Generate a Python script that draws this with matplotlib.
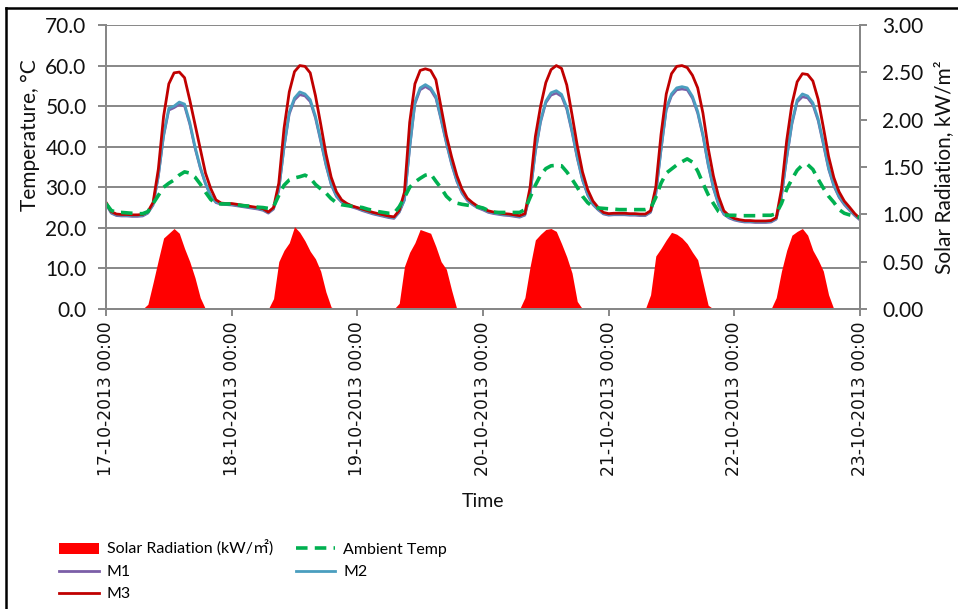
import matplotlib
matplotlib.use("Agg")
import matplotlib.pyplot as plt
from matplotlib.lines import Line2D
from matplotlib.patches import Patch
import numpy as np

# hourly samples from 17-10-2013 00:00 to 23-10-2013 00:00
hours = list(range(0, 145))
tick_hours = [0, 24, 48, 72, 96, 120, 144]
tick_labels = ["17-10-2013 00:00", "18-10-2013 00:00", "19-10-2013 00:00",
               "20-10-2013 00:00", "21-10-2013 00:00", "22-10-2013 00:00",
               "23-10-2013 00:00"]

m3 = [26.3, 24.0, 23.4, 23.3, 23.3, 23.2, 23.2, 23.3, 24.0, 26.3, 34.5, 47.5, 55.5, 58.2, 58.4, 57.0, 51.5, 45.5, 39.5, 33.5, 29.7, 26.9, 26.1, 26.0,
      26.0, 25.8, 25.6, 25.4, 25.2, 25.0, 24.7, 23.9, 25.0, 31.0, 44.5, 53.5, 58.5, 60.0, 59.8, 58.2, 52.6, 45.6, 38.3, 32.5, 28.9, 26.9, 26.0, 25.4,
      25.0, 24.6, 24.2, 23.8, 23.5, 23.2, 22.9, 22.7, 24.3, 28.8, 46.0, 55.5, 58.8, 59.2, 58.8, 56.5, 49.6, 42.8, 37.5, 32.9, 29.5, 27.3, 26.2, 25.3,
      24.8, 24.2, 23.9, 23.7, 23.5, 23.4, 23.2, 23.0, 23.5, 30.0, 42.5, 50.0, 55.8, 59.0, 60.0, 59.3, 55.2, 47.9, 40.3, 33.8, 29.4, 26.6, 25.0, 23.8,
      23.5, 23.6, 23.6, 23.6, 23.5, 23.5, 23.4, 23.4, 24.2, 30.0, 43.0, 53.0, 58.0, 59.8, 60.0, 59.5, 57.6, 54.5, 48.3, 39.7, 32.8, 27.7, 24.2, 23.0,
      22.3, 22.0, 21.8, 21.8, 21.7, 21.7, 21.7, 21.8, 22.5, 29.5, 41.5, 50.5, 56.0, 58.0, 57.8, 56.2, 51.7, 44.8, 37.6, 32.4, 28.9, 26.6, 25.1, 23.5,
      22.3]

m2 = [26.0, 23.8, 23.2, 23.1, 23.1, 23.0, 23.0, 23.1, 23.8, 25.8, 33.0, 43.0, 49.5, 50.0, 51.0, 50.5, 46.0, 40.0, 35.0, 31.0, 28.0, 26.4, 26.0, 25.9,
      25.8, 25.6, 25.4, 25.2, 25.0, 24.8, 24.5, 23.8, 24.8, 29.5, 40.0, 48.5, 52.0, 53.5, 53.0, 51.6, 47.5, 41.8, 35.8, 30.9, 28.0, 26.5, 25.9, 25.3,
      24.9, 24.4, 24.0, 23.6, 23.3, 23.0, 22.7, 22.5, 24.0, 27.0, 40.0, 51.0, 54.5, 55.3, 54.5, 52.4, 47.0, 41.2, 36.0, 31.7, 28.8, 27.0, 25.9, 25.1,
      24.6, 24.0, 23.7, 23.5, 23.3, 23.2, 23.0, 22.8, 23.3, 28.5, 39.0, 46.5, 51.2, 53.3, 53.8, 52.9, 49.7, 44.0, 37.5, 32.0, 28.3, 25.9, 24.6, 23.6,
      23.3, 23.4, 23.4, 23.4, 23.3, 23.3, 23.2, 23.2, 24.0, 28.5, 39.5, 49.5, 53.0, 54.5, 54.8, 54.5, 52.4, 48.7, 43.0, 35.8, 30.0, 25.9, 23.5, 22.6,
      22.1, 21.8, 21.6, 21.6, 21.5, 21.5, 21.5, 21.6, 22.3, 28.0, 37.5, 46.0, 51.5, 53.0, 52.5, 50.8, 46.9, 41.0, 34.8, 30.6, 27.8, 26.0, 24.6, 23.2,
      22.1]

m1 = [25.8, 23.6, 23.0, 22.9, 22.9, 22.8, 22.8, 22.9, 23.6, 25.6, 32.6, 42.5, 49.0, 49.6, 50.4, 50.0, 45.5, 39.6, 34.7, 30.8, 27.8, 26.2, 25.8, 25.7,
      25.6, 25.4, 25.2, 25.0, 24.8, 24.6, 24.3, 23.6, 24.6, 29.2, 39.6, 48.0, 51.5, 52.8, 52.5, 51.1, 47.0, 41.3, 35.4, 30.6, 27.7, 26.3, 25.7, 25.1,
      24.7, 24.2, 23.8, 23.4, 23.1, 22.8, 22.5, 22.3, 23.8, 26.8, 39.5, 50.5, 54.0, 54.8, 54.0, 51.9, 46.5, 40.8, 35.6, 31.4, 28.5, 26.7, 25.7, 24.9,
      24.4, 23.8, 23.5, 23.3, 23.1, 23.0, 22.8, 22.6, 23.1, 28.2, 38.6, 46.0, 50.8, 52.7, 53.2, 52.4, 49.2, 43.5, 37.1, 31.7, 28.0, 25.7, 24.4, 23.4,
      23.1, 23.2, 23.2, 23.2, 23.1, 23.1, 23.0, 23.0, 23.8, 28.2, 39.0, 49.0, 52.5, 54.0, 54.2, 54.0, 51.9, 48.2, 42.6, 35.4, 29.7, 25.6, 23.3, 22.4,
      21.9, 21.6, 21.4, 21.4, 21.3, 21.3, 21.3, 21.4, 22.1, 27.6, 37.0, 45.5, 51.0, 52.3, 52.0, 50.3, 46.4, 40.5, 34.4, 30.3, 27.5, 25.7, 24.3, 23.0,
      21.9]

ambient = [26.0, 24.3, 23.8, 23.8, 23.7, 23.6, 23.5, 23.5, 24.0, 26.0, 28.0, 30.0, 31.0, 31.8, 33.0, 33.8, 33.5, 32.5, 30.8, 28.8, 27.0, 26.0, 25.9, 25.9,
           25.9, 25.7, 25.5, 25.4, 25.3, 25.1, 25.0, 24.8, 25.2, 28.0, 30.5, 31.8, 32.3, 32.6, 33.0, 32.3, 30.7, 29.6, 28.6, 27.2, 26.2, 25.7, 25.5, 25.3,
           25.2, 25.0, 24.6, 24.3, 24.0, 23.8, 23.6, 23.6, 25.2, 27.5, 30.0, 31.3, 32.2, 33.0, 33.3, 31.5, 29.8, 27.8, 26.6, 26.1, 25.8, 25.6, 25.4, 25.2,
           24.9, 24.3, 23.9, 23.8, 23.8, 23.8, 23.8, 23.8, 24.5, 27.5, 30.5, 33.0, 34.6, 35.3, 35.4, 35.3, 33.8, 32.0, 30.0, 27.8, 26.2, 25.2, 24.9, 24.8,
           24.7, 24.6, 24.5, 24.5, 24.5, 24.5, 24.5, 24.5, 24.8, 27.5, 31.0, 33.5, 34.5, 35.5, 36.3, 37.0, 36.2, 34.0, 31.0, 28.2, 26.0, 24.0, 23.2, 23.1,
           23.1, 23.0, 23.0, 23.0, 23.0, 23.1, 23.1, 23.1, 23.5, 26.0, 29.5, 32.0, 34.2, 35.5, 35.6, 34.4, 32.0, 29.8, 27.8, 26.3, 24.5, 23.6, 23.2, 22.9,
           22.6]

solar = [0, 0, 0, 0, 0, 0, 0, 0, 0.05, 0.28, 0.52, 0.75, 0.80, 0.85, 0.80, 0.64, 0.50, 0.33, 0.12, 0, 0, 0, 0, 0,
         0, 0, 0, 0, 0, 0, 0, 0, 0.11, 0.50, 0.62, 0.70, 0.87, 0.81, 0.72, 0.61, 0.53, 0.40, 0.18, 0.02, 0, 0, 0, 0,
         0, 0, 0, 0, 0, 0, 0, 0, 0.06, 0.45, 0.60, 0.70, 0.84, 0.82, 0.80, 0.66, 0.50, 0.42, 0.20, 0, 0, 0, 0, 0,
         0, 0, 0, 0, 0, 0, 0, 0, 0.12, 0.45, 0.73, 0.79, 0.84, 0.85, 0.82, 0.69, 0.55, 0.38, 0.08, 0, 0, 0, 0, 0,
         0, 0, 0, 0, 0, 0, 0, 0, 0.15, 0.56, 0.64, 0.73, 0.81, 0.79, 0.75, 0.69, 0.60, 0.52, 0.28, 0.04, 0, 0, 0, 0,
         0, 0, 0, 0, 0, 0, 0, 0, 0.12, 0.40, 0.62, 0.78, 0.82, 0.85, 0.78, 0.62, 0.52, 0.40, 0.15, 0, 0, 0, 0, 0,
         0]

FONT = ["Lato", "Noto Sans CJK SC", "DejaVu Sans"]
plt.rcParams["font.family"] = FONT

GRID = "#878787"
TXT = "#111111"
C_SOLAR = "#FF0000"
C_AMB = "#00B050"
C_M1 = "#7B5EA7"
C_M2 = "#4A9EBF"
C_M3 = "#C00000"

fig = plt.figure(figsize=(9.58, 6.09), dpi=100)
W, H = 958.0, 609.0
x0, x1 = 106 / W, 860 / W
y0, y1 = 1 - 309 / H, 1 - 25 / H
ax = fig.add_axes([x0, y0, x1 - x0, y1 - y0])
ax2 = ax.twinx()

# temperature lines (primary axis)
ax.plot(hours, m1, color=C_M1, lw=1.8, zorder=3)
ax.plot(hours, m2, color=C_M2, lw=2.0, zorder=4)
ax.plot(hours, m3, color=C_M3, lw=2.0, zorder=5)
ax.plot(hours, ambient, color=C_AMB, lw=2.6, linestyle=(0, (3.2, 2.0)), zorder=6)

# solar radiation (secondary axis)
ax2.fill_between(hours, 0, solar, color=C_SOLAR, linewidth=0, zorder=2)

ax.set_xlim(0, 144)
ax.set_ylim(0, 70)
ax2.set_ylim(0, 3)

ax.set_yticks(np.arange(0, 71, 10))
ax.set_yticklabels([f"{v:.1f}" for v in np.arange(0, 71, 10)])
ax2.set_yticks(np.arange(0, 3.01, 0.5))
ax2.set_yticklabels([f"{v:.2f}" for v in np.arange(0, 3.01, 0.5)])
ax.set_xticks(tick_hours)
ax.set_xticklabels(tick_labels, rotation=90, family="DejaVu Sans", fontsize=12.3)

ax.yaxis.grid(True, color=GRID, lw=1.4)
ax.set_axisbelow(True)

for a in (ax, ax2):
    a.spines["top"].set_visible(False)
    for s in ("left", "right", "bottom"):
        a.spines[s].set_color(GRID)
        a.spines[s].set_linewidth(1.4)
ax.tick_params(axis="y", labelsize=15, length=6, color=GRID, width=1.4, pad=8, labelcolor=TXT)
ax.tick_params(axis="x", length=5, color=GRID, width=1.4, pad=4, labelcolor=TXT)
ax2.tick_params(axis="y", labelsize=15, length=5, color=GRID, width=1.4, pad=11, labelcolor=TXT)

ax.set_ylabel("Temperature, °C", fontsize=15, color=TXT)
ax.yaxis.set_label_coords((40 - 106) / 754, (309 - 135) / 284)
ax2.set_ylabel("Solar Radiation, kW/m²", fontsize=15, color=TXT)
ax2.yaxis.set_label_coords((934 - 106) / 754, 0.5)
ax.set_xlabel("Time", fontsize=14, color=TXT)
ax.xaxis.set_label_coords((483 - 106) / 754, (309 - 493) / 284)

handles = [Patch(facecolor=C_SOLAR, edgecolor="none"),
           Line2D([], [], color=C_M1, lw=2),
           Line2D([], [], color=C_M3, lw=2),
           Line2D([], [], color=C_AMB, lw=2.6, linestyle=(0, (3.2, 2.0))),
           Line2D([], [], color=C_M2, lw=2)]
labels = ["Solar Radiation (kW/㎡)", "M1", "M3", "Ambient Temp", "M2"]
fig.legend(handles, labels, loc="upper left", bbox_to_anchor=(51 / W, 1 - 533 / H),
           ncol=2, frameon=False, handlelength=2.5, handleheight=0.75,
           handletextpad=0.5, columnspacing=1.4, labelspacing=0.48, borderpad=0,
           prop={"family": FONT, "size": 11.5})

# figure border (left and top edges)
fig.add_artist(Line2D([5.5 / W, 5.5 / W], [0, 1 - 8 / H], transform=fig.transFigure, color="black", lw=1.8))
fig.add_artist(Line2D([5.5 / W, 1], [1 - 8 / H, 1 - 8 / H], transform=fig.transFigure, color="black", lw=1.8))

fig.savefig("out.png", dpi=100)
